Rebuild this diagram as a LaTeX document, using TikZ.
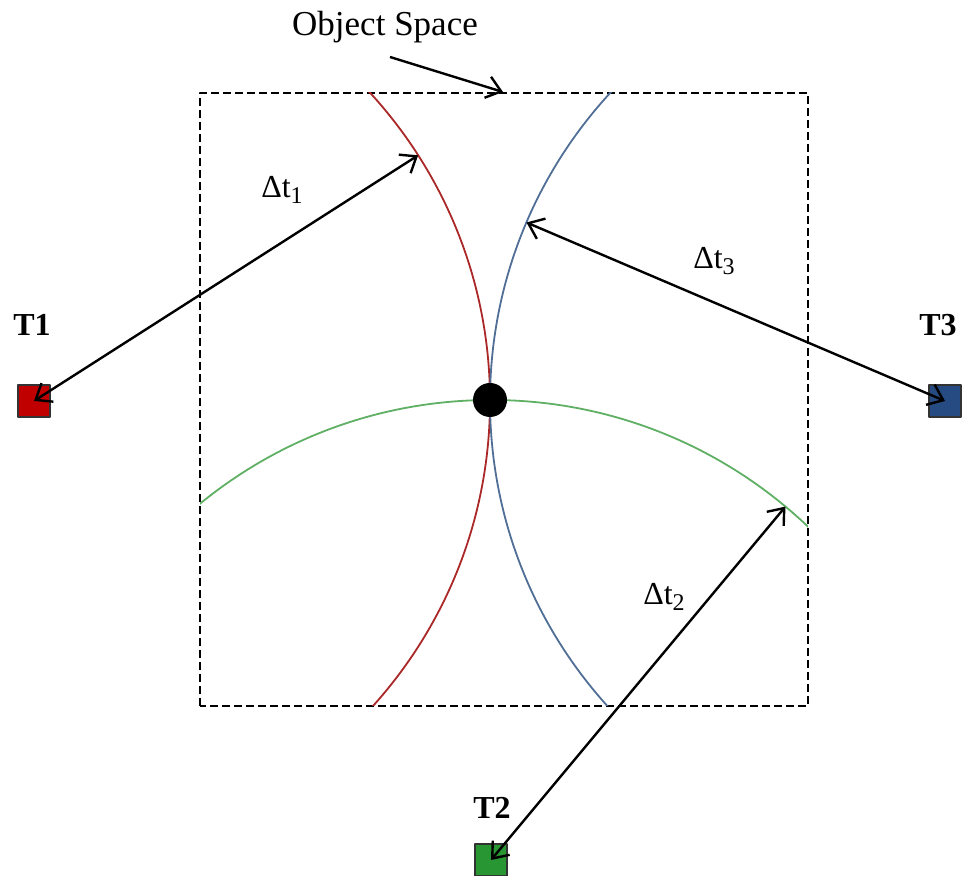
\documentclass[tikz,border=0pt]{standalone}
\usepackage{fontspec}
\setmainfont{Liberation Serif}
\usetikzlibrary{calc,arrows.meta}

\begin{document}
\begin{tikzpicture}[x=0.5pt, y=0.5pt, line cap=butt, line join=round,
    font=\fontsize{16}{19}\selectfont,
    >={Straight Barb[length=7pt,width=11pt]},
    every node/.style={inner sep=0pt}]
  \definecolor{txRed}{RGB}{192,0,0}
  \definecolor{txBlue}{RGB}{38,74,130}
  \definecolor{txGreen}{RGB}{40,150,50}
  \definecolor{arcRed}{RGB}{170,40,40}
  \definecolor{arcBlue}{RGB}{80,110,150}
  \definecolor{arcGreen}{RGB}{95,175,100}
  \tikzset{
    txbox/.style={draw=black!80, line width=0.8pt, minimum size=16pt},
    txlabel/.style={font=\fontsize{16}{19}\selectfont\bfseries},
    rangearrow/.style={<->, line width=1.2pt},
    dtlabel/.style={anchor=center}
  }
  \useasboundingbox (0,0) rectangle (962,876);
  % ==== object space ====
  \draw[black, line width=1pt, dash pattern=on 4pt off 2pt]
    (200,170) rectangle (808,783);
  \node[anchor=base, font=\fontsize{17.5}{20}\selectfont] (ostitle) at (385,840) {Object Space};
  \coordinate (osfrom) at (390,819);
  \coordinate (ostop) at (503,784);
  \draw[->, line width=1.2pt] (osfrom) -- (ostop);
  % ==== transmitters ====
  \node[txbox, fill=txRed] (t1) at (34,475) {};
  \node[txbox, fill=txBlue] (t3) at (945,475) {};
  \node[txbox, fill=txGreen] (t2) at (491,16) {};
  \node[txlabel] (t1lab) at (32,551) {T1};
  \node[txlabel] (t3lab) at (938,551) {T3};
  \node[txlabel] (t2lab) at (492,68) {T2};
  % ==== range circles, clipped to the object space ====
  \begin{scope}
    \clip (200,170) rectangle (808,783);
    \draw[arcRed, line width=0.9pt] (t1.center) circle[radius=456];
    \draw[arcBlue, line width=0.9pt] (t3.center) circle[radius=455];
    \draw[arcGreen, line width=0.9pt] (t2.center) circle[radius=460];
  \end{scope}
  \node[circle, fill=black, minimum size=17pt] (target) at (490,476) {};
  % ==== time differences ====
  \coordinate (r1) at ($(t1.center)+(32.6:456)$);
  \coordinate (r3) at ($(t3.center)+(156.9:455)$);
  \coordinate (r2) at ($(t2.center)+(50.2:460)$);
  \draw[rangearrow] (t1.center) -- (r1);
  \draw[rangearrow] (t3.center) -- (r3);
  \draw[rangearrow] (t2.center) -- (r2);
  \node[dtlabel] (dt1) at (282,686) {Δt\raisebox{-0.45ex}{\fontsize{12}{12}\selectfont 1}};
  \node[dtlabel] (dt3) at (714,615) {Δt\raisebox{-0.45ex}{\fontsize{12}{12}\selectfont 3}};
  \node[dtlabel] (dt2) at (664,279) {Δt\raisebox{-0.45ex}{\fontsize{12}{12}\selectfont 2}};
\end{tikzpicture}
\end{document}
